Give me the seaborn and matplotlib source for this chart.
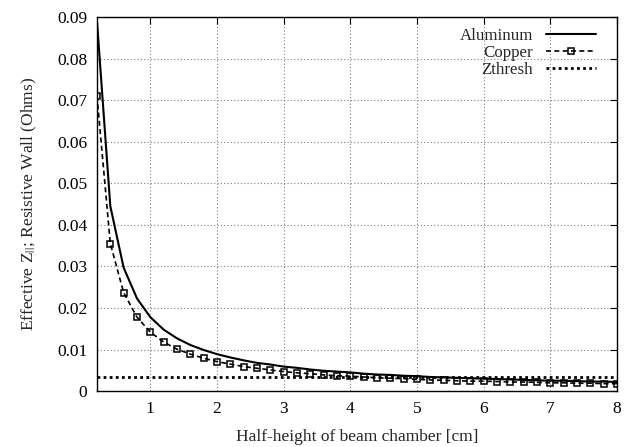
import matplotlib
matplotlib.use("Agg")
import matplotlib.pyplot as plt
import seaborn as sns
import pandas as pd

half_height = [0.2, 0.4, 0.6, 0.8, 1.0, 1.2, 1.4, 1.6, 1.8, 2.0,
               2.2, 2.4, 2.6, 2.8, 3.0, 3.2, 3.4, 3.6, 3.8, 4.0,
               4.2, 4.4, 4.6, 4.8, 5.0, 5.2, 5.4, 5.6, 5.8, 6.0,
               6.2, 6.4, 6.6, 6.8, 7.0, 7.2, 7.4, 7.6, 7.8, 8.0]
aluminum = [0.0890, 0.0445, 0.0297, 0.0223, 0.0178, 0.0148, 0.0127, 0.0111, 0.0099, 0.0089,
            0.0081, 0.0074, 0.0068, 0.0064, 0.0059, 0.0056, 0.0052, 0.0049, 0.0047, 0.0045,
            0.0042, 0.0040, 0.0039, 0.0037, 0.0036, 0.0034, 0.0033, 0.0032, 0.0031, 0.0030,
            0.0029, 0.0028, 0.0027, 0.0026, 0.0025, 0.0025, 0.0024, 0.0023, 0.0023, 0.0022]
copper = [0.0710, 0.0355, 0.0237, 0.0178, 0.0142, 0.0118, 0.0101, 0.0089, 0.0079, 0.0071,
          0.0065, 0.0059, 0.0055, 0.0051, 0.0047, 0.0044, 0.0042, 0.0039, 0.0037, 0.0036,
          0.0034, 0.0032, 0.0031, 0.0030, 0.0028, 0.0027, 0.0026, 0.0025, 0.0024, 0.0024,
          0.0023, 0.0022, 0.0022, 0.0021, 0.0020, 0.0020, 0.0019, 0.0019, 0.0018, 0.0018]
zthresh_value = 0.0034
zthresh_x = [0.2, 8.0]

x_ticks = [1, 2, 3, 4, 5, 6, 7, 8]
y_ticks = [0, 0.01, 0.02, 0.03, 0.04, 0.05, 0.06, 0.07, 0.08, 0.09]
y_tick_labels = ["0", "0.01", "0.02", "0.03", "0.04", "0.05", "0.06", "0.07", "0.08", "0.09"]

sns.set_theme(style="white")
plt.rcParams["font.family"] = ["Liberation Serif", "DejaVu Serif"]
plt.rcParams["mathtext.fontset"] = "stix"

df_al = pd.DataFrame({"x": half_height, "y": aluminum})
df_cu = pd.DataFrame({"x": half_height, "y": copper})
df_z = pd.DataFrame({"x": zthresh_x, "y": [zthresh_value] * len(zthresh_x)})

fig = plt.figure(figsize=(6.38, 4.47), dpi=100)
ax = fig.add_axes([0.152, 0.125, 0.815, 0.837])

sns.lineplot(data=df_al, x="x", y="y", ax=ax, color="black", lw=1.5, label="Aluminum")
sns.lineplot(data=df_cu, x="x", y="y", ax=ax, color="black", lw=1.2, label="Copper",
             linestyle=(0, (3, 2)), marker="s", markersize=5, markerfacecolor="none",
             markeredgecolor="black", markeredgewidth=1.1)
sns.lineplot(data=df_z, x="x", y="y", ax=ax, color="black", lw=2.0, label="Zthresh",
             linestyle=(0, (1, 1.2)))

ax.set_xlim(0.2, 8)
ax.set_ylim(0, 0.09)
ax.set_xticks(x_ticks)
ax.set_yticks(y_ticks)
ax.set_yticklabels(y_tick_labels)
ax.grid(True, color="#808080", linestyle=(0, (1, 2)), lw=0.8)
ax.tick_params(direction="in", length=5, width=0.8, top=True, right=True,
               labelsize=12.5, colors="black", pad=7)
for s in ax.spines.values():
    s.set_color("black")
    s.set_linewidth(1.0)

ax.set_xlabel("Half-height of beam chamber [cm]", fontsize=12.5, labelpad=9)
ax.set_ylabel("Effective Z$_{||}$; Resistive Wall (Ohms)", fontsize=12.5, labelpad=13)

leg = ax.legend(loc="upper right", bbox_to_anchor=(0.972, 0.99), borderaxespad=0,
                frameon=False, markerfirst=False, fontsize=12.2,
                handlelength=2.9, labelspacing=0.08, handletextpad=0.8)
for col in leg._legend_handle_box.get_children():
    col.align = "right"

fig.savefig("out.png", dpi=100)
